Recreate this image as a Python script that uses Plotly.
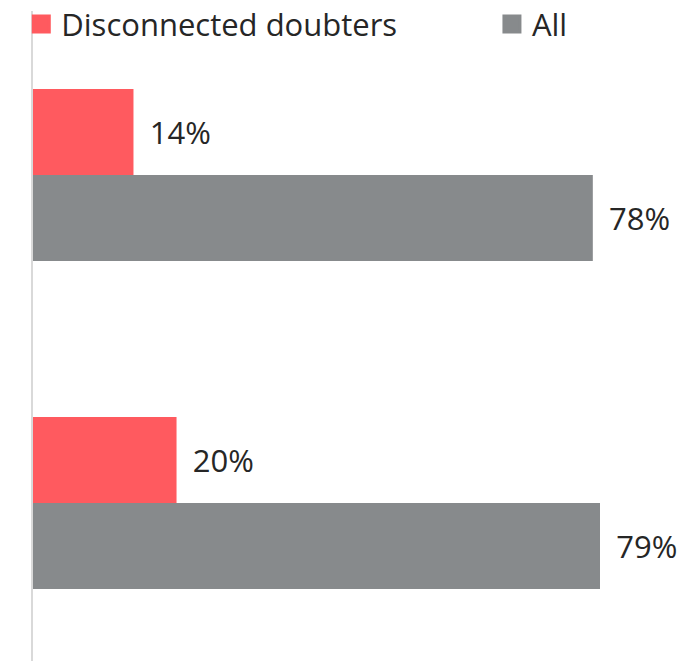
import plotly.graph_objects as go

categories = ["Group 1", "Group 2"]
series_names = ["Disconnected doubters", "All"]
disconnected = [14, 20]
all_vals = [78, 79]
colors = ["#FF5A5F", "#878A8C"]
legend_ids = ["legend", "legend2"]

fig = go.Figure()
for name, vals, col, lg in zip(series_names, [disconnected, all_vals], colors, legend_ids):
    fig.add_trace(go.Bar(
        y=categories, x=vals, orientation="h", name=name,
        marker=dict(color=col, line=dict(width=0)),
        texttemplate=" \u2009%{x}%", textposition="outside",
        textfont=dict(size=31, color="#262626", family="Open Sans"),
        cliponaxis=False, showlegend=False,
    ))
    fig.add_trace(go.Scatter(
        x=[None], y=[None], mode="markers", name=name, legend=lg,
        marker=dict(symbol="square", size=16, color=col, line=dict(color=col, width=3)),
        showlegend=True,
    ))

legend_common = dict(
    orientation="h", xref="container", yref="container", xanchor="left",
    y=0.963, yanchor="middle",
    font=dict(size=31, color="#262626", family="Open Sans"),
    itemsizing="trace", itemwidth=30, bgcolor="rgba(0,0,0,0)",
)

fig.update_layout(
    width=689, height=661,
    margin=dict(l=33, r=0, t=11, b=0, autoexpand=False),
    paper_bgcolor="white", plot_bgcolor="white",
    barmode="group", bargap=0.476, bargroupgap=0,
    font=dict(family="Open Sans", color="#262626"),
    legend=dict(x=0.0309, **legend_common),
    legend2=dict(x=0.714, **legend_common),
    xaxis=dict(range=[0, 91.4], showgrid=False, zeroline=False, showline=False,
               showticklabels=False, ticks=""),
    yaxis=dict(range=[1.4817, -0.5], showgrid=False, zeroline=False,
               showline=True, linecolor="#D9D9D9", linewidth=2,
               showticklabels=False, ticks=""),
)

fig.write_html("out.html", config={"displayModeBar": False},
               post_script="document.body.style.margin='0';")
